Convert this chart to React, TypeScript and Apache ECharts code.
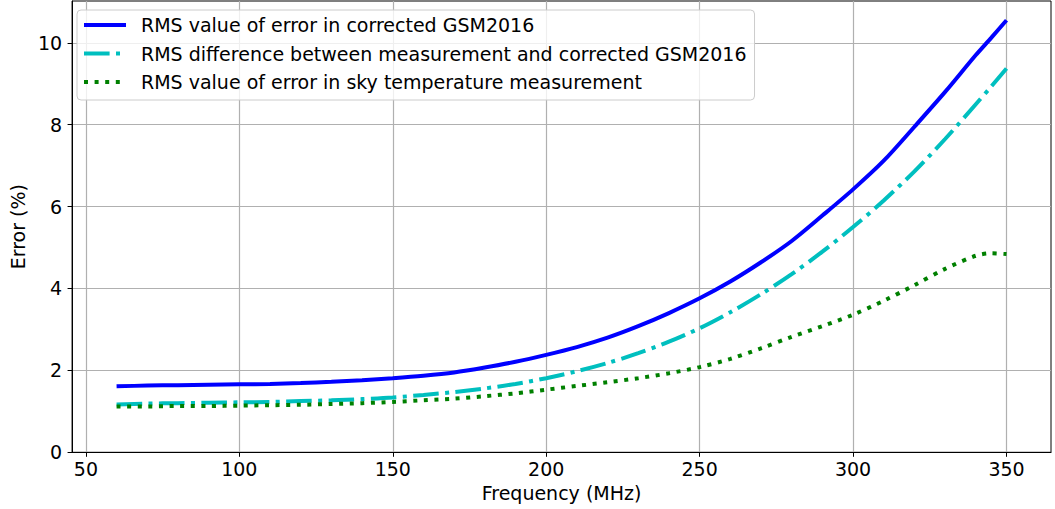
import React, { useEffect, useRef } from "react";
import * as echarts from "echarts";

const freqs = [60, 70, 80, 90, 100, 110, 120, 130, 140, 150, 160, 170, 180, 190, 200, 210, 220, 230, 240, 250, 260, 270, 280, 290, 300, 310, 320, 330, 340, 345, 350];
const rmsCorrected = [1.61, 1.63, 1.64, 1.65, 1.66, 1.67, 1.69, 1.72, 1.76, 1.81, 1.87, 1.95, 2.07, 2.21, 2.38, 2.57, 2.80, 3.08, 3.40, 3.76, 4.17, 4.64, 5.16, 5.78, 6.42, 7.12, 7.95, 8.80, 9.70, 10.12, 10.55];
const rmsDifference = [1.17, 1.19, 1.20, 1.21, 1.22, 1.23, 1.25, 1.27, 1.30, 1.34, 1.40, 1.47, 1.56, 1.67, 1.81, 1.98, 2.18, 2.42, 2.70, 3.03, 3.42, 3.86, 4.35, 4.90, 5.50, 6.15, 6.86, 7.65, 8.50, 8.93, 9.37];
const rmsSky = [1.12, 1.12, 1.13, 1.13, 1.14, 1.15, 1.16, 1.18, 1.20, 1.23, 1.27, 1.31, 1.37, 1.44, 1.53, 1.62, 1.71, 1.81, 1.93, 2.08, 2.28, 2.54, 2.82, 3.08, 3.36, 3.70, 4.08, 4.48, 4.80, 4.86, 4.84];
const xTicks = [50, 100, 150, 200, 250, 300, 350];
const yTicks = [0, 2, 4, 6, 8, 10];
const seriesNames = [
  "RMS value of error in corrected GSM2016",
  "RMS difference between measurement and corrected GSM2016",
  "RMS value of error in sky temperature measurement",
];

const FONT = "DejaVu Sans";
const FS = 19;

export default function App() {
  const ref = useRef<HTMLDivElement>(null);
  useEffect(() => {
    if (!ref.current) return;
    const chart = echarts.init(ref.current, undefined, { renderer: "svg" });
    const toPairs = (vals: number[]) => freqs.map((f, i) => [f, vals[i]]);
    const styles = [
      { color: "#0000ff", type: "solid" as any },
      { color: "#00bfbf", type: [25.6, 6.4, 4, 6.4] },
      { color: "#008000", type: [4, 6.6] },
    ];
    const values = [rmsCorrected, rmsDifference, rmsSky];
    chart.setOption({
      animation: false,
      textStyle: { fontFamily: FONT },
      grid: {
        left: 66.7,
        right: 4,
        top: 1,
        bottom: 56.7,
        show: true,
        borderColor: "#000",
        borderWidth: 1,
        backgroundColor: "transparent",
      },
      legend: {
        orient: "vertical",
        left: 77,
        top: 10,
        padding: [4.5, 8, 7.5, 5],
        itemWidth: 42,
        itemHeight: 14,
        itemGap: 7.5,
        backgroundColor: "rgba(255,255,255,0.8)",
        borderColor: "#cccccc",
        borderWidth: 1,
        borderRadius: 4,
        itemStyle: { opacity: 0 },
        lineStyle: { width: 4 },
        textStyle: {
          fontFamily: FONT,
          fontSize: FS,
          color: "#000",
          lineHeight: 21,
          padding: [0, 0, 0, 10],
        },
        data: seriesNames,
      },
      xAxis: {
        type: "value",
        min: 45.5,
        max: 364.5,
        name: "Frequency (MHz)",
        nameLocation: "middle",
        nameGap: 31,
        nameTextStyle: { fontFamily: FONT, fontSize: FS, color: "#000" },
        axisLine: { show: true, lineStyle: { color: "#000", width: 1 } },
        axisTick: { show: true, inside: false, length: 4.5, customValues: xTicks, lineStyle: { color: "#000", width: 1 } },
        axisLabel: { customValues: xTicks, fontFamily: FONT, fontSize: FS, color: "#000", margin: 7 },
        splitLine: { show: true, lineStyle: { color: "#b0b0b0", width: 1.2 } },
      },
      yAxis: {
        type: "value",
        min: 0,
        max: 11.02,
        name: "Error (%)",
        nameLocation: "middle",
        nameGap: 42,
        nameTextStyle: { fontFamily: FONT, fontSize: FS, color: "#000" },
        axisLine: { show: true, lineStyle: { color: "#000", width: 1 } },
        axisTick: { show: true, inside: false, length: 4.5, customValues: yTicks, lineStyle: { color: "#000", width: 1 } },
        axisLabel: { customValues: yTicks, fontFamily: FONT, fontSize: FS, color: "#000", margin: 10 },
        splitLine: { show: true, lineStyle: { color: "#b0b0b0", width: 1.2 } },
      },
      series: seriesNames.map((name, i) => ({
        name,
        type: "line",
        data: toPairs(values[i]),
        showSymbol: false,
        symbol: "none",
        smooth: 0.3,
        color: styles[i].color,
        lineStyle: { color: styles[i].color, width: 4, type: styles[i].type, cap: "butt" },
      })),
    });
    return () => chart.dispose();
  }, []);
  return (
    <div
      ref={ref}
      style={{ position: "fixed", left: 0, top: 0, width: 1055, height: 509, background: "#fff" }}
    />
  );
}
